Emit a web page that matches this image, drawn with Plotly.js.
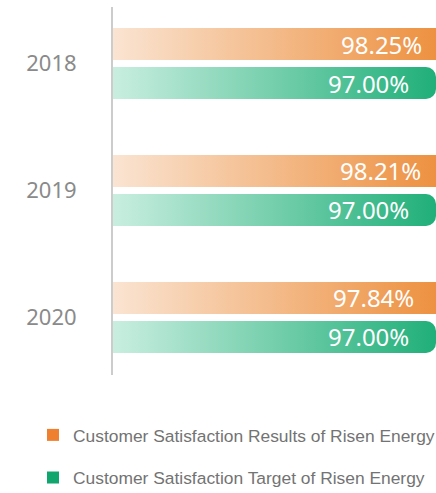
<!DOCTYPE html>
<html>
<head>
<meta charset="utf-8">
<script src="https://cdn.plot.ly/plotly-3.0.1.min.js"></script>
<style>
html, body { margin: 0; padding: 0; overflow: hidden; background: #ffffff; }
#chart { width: 480px; height: 493px; }
</style>
</head>
<body>
<div id="chart"></div>
<script>
const years = ['2018', '2019', '2020'];
const results = [98.25, 98.21, 97.84];
const targets = [97.00, 97.00, 97.00];
const seriesNames = ['Customer Satisfaction Results of Risen Energy', 'Customer Satisfaction Target of Risen Energy'];
const legendColors = ['#ee802f', '#12a66f'];
const gradColors = [['#fae4d2', '#ed9141'], ['#c9eee0', '#20af79']];

const traces = [
  {
    type: 'bar', orientation: 'h', name: seriesNames[0], legendgroup: 'a',
    y: years, x: results,
    marker: { color: legendColors[0], cornerradius: 10, line: { width: 0 } },
    hoverinfo: 'skip'
  },
  {
    type: 'bar', orientation: 'h', name: seriesNames[1], legendgroup: 'b',
    y: years, x: targets,
    marker: { color: legendColors[1], cornerradius: 10, line: { width: 0 } },
    hoverinfo: 'skip'
  }
];

const labelFont = { family: 'Noto Sans', size: 24, color: '#ffffff' };
const annotations = [];
years.forEach((yr, i) => {
  annotations.push({
    x: results[i], y: i, xref: 'x', yref: 'y',
    text: results[i].toFixed(2) + '%', showarrow: false,
    xanchor: 'right', yanchor: 'middle', xshift: -36, yshift: 19.5,
    font: labelFont
  });
  annotations.push({
    x: targets[i], y: i, xref: 'x', yref: 'y',
    text: targets[i].toFixed(2) + '%', showarrow: false,
    xanchor: 'right', yanchor: 'middle', xshift: -25, yshift: -19.5,
    font: labelFont
  });
});

const layout = {
  width: 480, height: 493,
  margin: { l: 113, r: 0, t: 7, b: 118, autoexpand: false },
  paper_bgcolor: '#ffffff', plot_bgcolor: '#ffffff',
  barmode: 'group', bargap: 0.386, bargroupgap: 0.179,
  xaxis: { range: [80, 99.316], visible: false, fixedrange: true },
  yaxis: {
    type: 'category', range: [2.453, -0.445],
    showline: true, linecolor: '#cccccc', linewidth: 2,
    showgrid: false, zeroline: false, ticks: '',
    ticklabelstandoff: 30,
    tickfont: { family: 'Noto Sans', size: 22, color: '#8a8a8a' },
    fixedrange: true
  },
  annotations: annotations,
  showlegend: true,
  legend: {
    xref: 'container', yref: 'container',
    x: 33 / 480, xanchor: 'left', y: 0.154, yanchor: 'top',
    traceorder: 'grouped', tracegroupgap: 17,
    font: { family: 'Liberation Sans, Arial', size: 17.4, color: '#737373' },
    bgcolor: 'rgba(0,0,0,0)'
  },
  hovermode: false
};

const gd = document.getElementById('chart');
Plotly.newPlot(gd, traces, layout, { displayModeBar: false, staticPlot: true }).then(() => {
  const ns = 'http://www.w3.org/2000/svg';
  const svg = gd.querySelector('.main-svg');
  let defs = svg.querySelector('defs');
  if (!defs) { defs = document.createElementNS(ns, 'defs'); svg.insertBefore(defs, svg.firstChild); }
  const xa = gd._fullLayout.xaxis;
  const x2 = window.innerWidth - xa._offset;
  gradColors.forEach((c, i) => {
    const lg = document.createElementNS(ns, 'linearGradient');
    lg.setAttribute('id', 'barGrad' + i);
    lg.setAttribute('gradientUnits', 'userSpaceOnUse');
    lg.setAttribute('x1', 0); lg.setAttribute('y1', 0);
    lg.setAttribute('x2', x2); lg.setAttribute('y2', 0);
    [[0, c[0]], [1, c[1]]].forEach(([o, col]) => {
      const s = document.createElementNS(ns, 'stop');
      s.setAttribute('offset', o);
      s.setAttribute('stop-color', col);
      lg.appendChild(s);
    });
    defs.appendChild(lg);
  });
  gd.querySelectorAll('.barlayer .trace').forEach((tr, i) => {
    tr.querySelectorAll('.point path').forEach(p => { p.style.fill = 'url(#barGrad' + i + ')'; });
  });
  // square legend swatches
  gd.querySelectorAll('.legend .legendpoints path').forEach(p => {
    p.setAttribute('d', 'M6,6H-6V-6H6Z');
  });
});
</script>
</body>
</html>
